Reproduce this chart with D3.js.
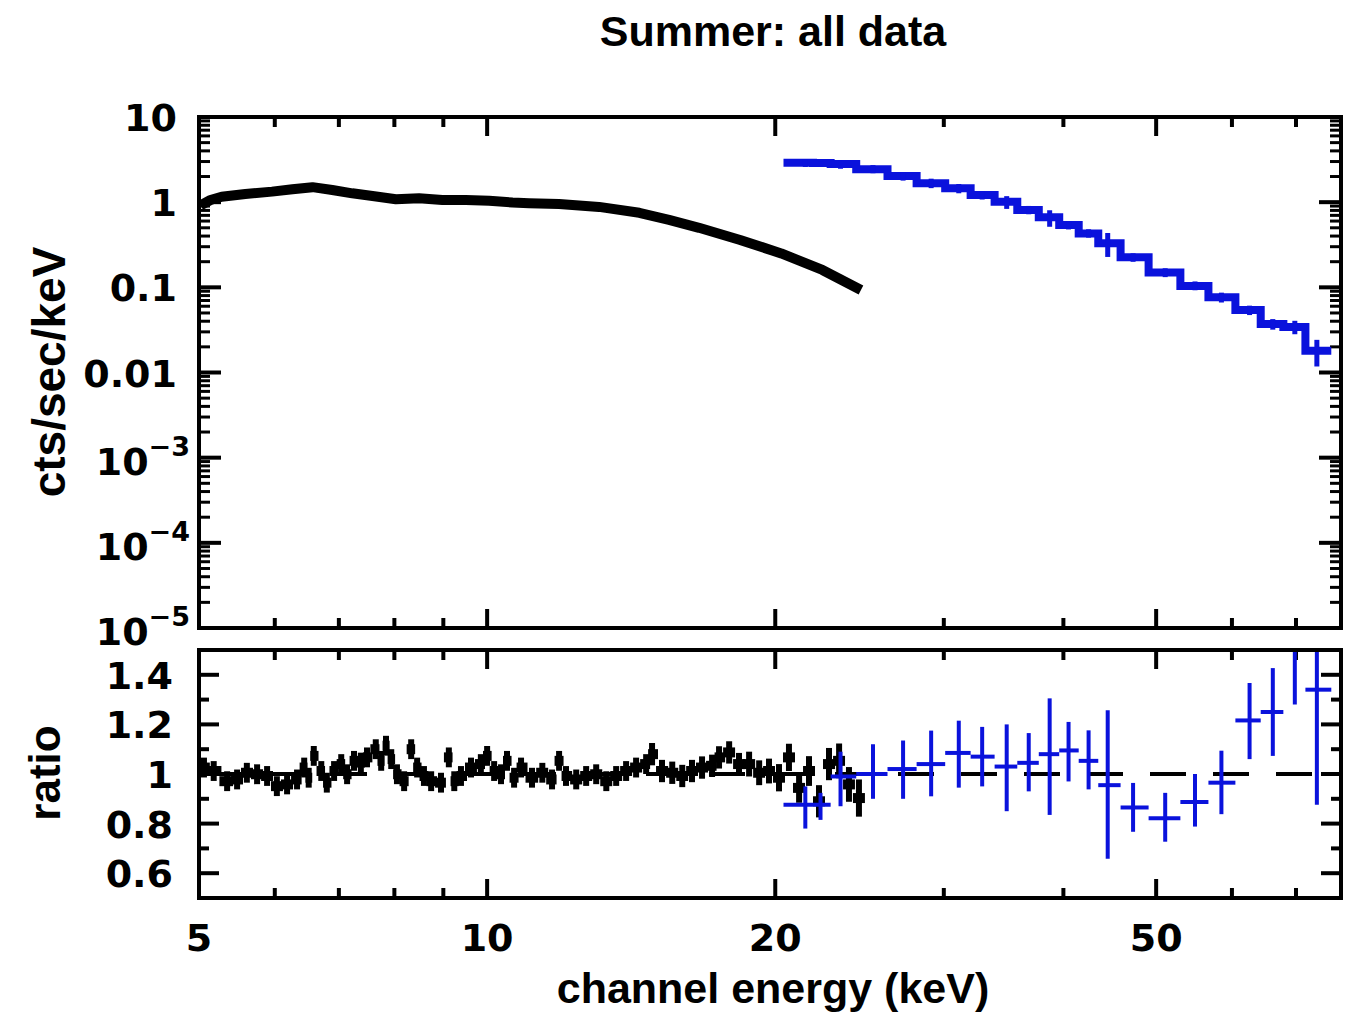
<!DOCTYPE html>
<html><head><meta charset="utf-8">
<script src="https://cdn.jsdelivr.net/npm/d3@7"></script>
<style>
body{margin:0;background:#fff}
svg{display:block}
text{font-family:"Liberation Sans",Arial,sans-serif;font-weight:bold;fill:#000}
text.tl{font-family:"DejaVu Sans",sans-serif}
</style>
</head><body>
<svg id="c" width="1346" height="1015"></svg>
<script>
// ---------- text ----------
const titleText = "Summer: all data";
const xLabelText = "channel energy (keV)";
const yTopLabelText = "cts/sec/keV";
const yBotLabelText = "ratio";

// ---------- ticks ----------
const xMajorTicks = [5, 10, 20, 50];
const xMajorLabels = ["5", "10", "20", "50"];
const xMinorTicks = [6, 7, 8, 9, 30, 40, 60, 70];
const yTopDecades = [10, 1, 0.1, 0.01, 1e-3, 1e-4, 1e-5];
const yTopBase = ["10", "1", "0.1", "0.01", "10", "10", "10"];
const yTopSup = ["", "", "", "", "\u22123", "\u22124", "\u22125"];
const ratioMajor = [0.6, 0.8, 1, 1.2, 1.4];
const ratioMajorLabels = ["0.6", "0.8", "1", "1.2", "1.4"];
const ratioMinor = [0.7, 0.9, 1.1, 1.3];

// ---------- black instrument: spectrum (cts/sec/keV) ----------
const blackSpecE = [5.02, 5.14, 5.28, 5.59, 5.96, 6.26, 6.57, 6.89, 7.23, 7.59, 8.03, 8.49, 8.98, 9.50, 10.05, 10.63, 11.06, 11.89, 13.09, 14.42, 15.49, 16.65, 18.38, 20.29, 22.40, 24.58];
const blackSpecV = [0.92, 1.06, 1.16, 1.25, 1.33, 1.42, 1.50, 1.39, 1.27, 1.18, 1.08, 1.11, 1.06, 1.06, 1.04, 0.99, 0.97, 0.95, 0.88, 0.75, 0.62, 0.50, 0.36, 0.25, 0.16, 0.093];

// ---------- black instrument: ratio ----------
const blackRatioE = [5.06, 5.18, 5.35, 5.48, 5.61, 5.75, 5.89, 6.03, 6.18, 6.33, 6.44, 6.51, 6.59, 6.71, 6.80, 6.92, 7.04, 7.14, 7.26, 7.38,
  7.49, 7.65, 7.75, 7.84, 7.94, 8.05, 8.19, 8.33, 8.45, 8.59, 8.74, 8.95, 9.12, 9.24, 9.39, 9.62, 9.85, 10.0, 10.17, 10.34,
  10.49, 10.67, 10.85, 11.14, 11.42, 11.69, 11.89, 12.09, 12.39, 12.69, 13.00, 13.32, 13.64, 13.97, 14.31, 14.66, 14.87, 15.23, 15.61, 15.99,
  16.37, 16.77, 17.18, 17.47, 17.90, 18.33, 18.78, 19.24, 19.70, 20.18, 20.67, 21.18, 21.69, 22.22, 22.76, 23.32, 23.88, 24.46];
const blackRatioV = [1.026, 1.012, 0.971, 0.978, 1.005, 0.999, 0.992, 0.951, 0.958, 0.978, 1.026, 0.985, 1.073, 1.012, 0.965, 1.012, 1.04, 0.999, 1.053, 1.046,
  1.067, 1.10, 1.053, 1.114, 1.06, 0.999, 0.971, 1.10, 1.026, 0.992, 0.971, 0.965, 1.067, 0.971, 0.992, 1.026, 1.04, 1.073, 1.012, 0.999,
  1.053, 0.985, 1.026, 0.985, 1.005, 0.978, 1.053, 0.992, 0.978, 0.992, 0.999, 0.971, 0.992, 1.012, 1.026, 1.04, 1.08, 1.012, 1.005, 0.992,
  1.012, 1.026, 1.033, 1.067, 1.087, 1.04, 1.04, 1.005, 1.012, 0.985, 1.067, 0.944, 1.012, 0.89, 1.04, 1.053, 0.958, 0.903];
const blackRatioErr = [0.04, 0.04, 0.04, 0.04, 0.04, 0.04, 0.04, 0.04, 0.04, 0.04, 0.04, 0.04, 0.04, 0.04, 0.04, 0.04, 0.04, 0.04, 0.04, 0.04,
  0.04, 0.04, 0.04, 0.04, 0.04, 0.04, 0.04, 0.04, 0.04, 0.04, 0.04, 0.04, 0.04, 0.04, 0.04, 0.04, 0.04, 0.04, 0.04, 0.04,
  0.04, 0.04, 0.04, 0.04, 0.04, 0.04, 0.04, 0.04, 0.04, 0.04, 0.04, 0.04, 0.04, 0.04, 0.04, 0.04, 0.045, 0.045, 0.045, 0.045,
  0.045, 0.045, 0.045, 0.045, 0.045, 0.045, 0.05, 0.05, 0.05, 0.055, 0.055, 0.06, 0.06, 0.065, 0.065, 0.07, 0.07, 0.075];

// ---------- blue instrument ----------
const blueEdges = [20.4, 21.9, 22.85, 24.3, 26.2, 28.1, 30.1, 32.0, 33.9, 35.8, 37.7, 39.6, 41.5, 43.5, 45.9, 49.1, 53.0, 56.7, 60.5, 64.3, 67.9, 71.6, 76.2];
const blueE = [21.5, 22.3, 23.4, 25.3, 27.2, 29.1, 31.1, 32.9, 34.9, 36.8, 38.7, 40.5, 42.5, 44.5, 47.3, 51.1, 54.9, 58.5, 62.6, 66.2, 69.8, 73.6];
const blueSpec = [2.91, 2.88, 2.81, 2.43, 2.03, 1.67, 1.46, 1.21, 1.01, 0.81, 0.665, 0.54, 0.43, 0.33, 0.225, 0.149, 0.104, 0.0764, 0.0542, 0.0371, 0.0343, 0.018];
const blueRatio = [0.876, 0.876, 0.99, 1.00, 1.02, 1.04, 1.085, 1.07, 1.03, 1.045, 1.08, 1.095, 1.053, 0.955, 0.865, 0.822, 0.887, 0.965, 1.216, 1.25, 1.56, 1.34];
const blueRatioLo = [0.78, 0.815, 0.87, 0.90, 0.90, 0.91, 0.945, 0.95, 0.85, 0.93, 0.835, 0.97, 0.938, 0.658, 0.767, 0.727, 0.788, 0.838, 1.06, 1.073, 1.28, 0.876];
const blueRatioHi = [0.95, 0.924, 1.09, 1.12, 1.135, 1.175, 1.215, 1.19, 1.20, 1.165, 1.305, 1.21, 1.176, 1.257, 0.964, 0.924, 1.0, 1.094, 1.367, 1.427, 1.84, 1.80];

const BLUE = "#0a12dc";

// ---------- layout ----------
const svg = d3.select("#c");
const L = 199, R = 1341;
const topT = 117, topB = 628, botT = 650, botB = 898;

const x = d3.scaleLog().domain([5, 78]).range([L, R]);
const yT = d3.scaleLog().domain([1e-5, 10]).range([topB, topT]);
const yR = d3.scaleLinear().domain([0.5, 1.5]).range([botB, botT]);

const defs = svg.append("defs");
defs.append("clipPath").attr("id", "clipTop").append("rect").attr("x", L).attr("y", topT).attr("width", R - L).attr("height", topB - topT);
defs.append("clipPath").attr("id", "clipBot").append("rect").attr("x", L).attr("y", botT).attr("width", R - L).attr("height", botB - botT);

// ---------- title & labels ----------
svg.append("text").attr("x", 773).attr("y", 46).attr("text-anchor", "middle").attr("font-size", 43).text(titleText);
svg.append("text").attr("x", 773).attr("y", 1003).attr("text-anchor", "middle").attr("font-size", 43).text(xLabelText);
svg.append("text").attr("transform", "translate(65,372) rotate(-90)").attr("text-anchor", "middle").attr("font-size", 46).text(yTopLabelText);
svg.append("text").attr("transform", "translate(60,773) rotate(-90)").attr("text-anchor", "middle").attr("font-size", 44).text(yBotLabelText);

// ---------- ticks ----------
function xTicks(top, bot) {
  const g = svg.append("g").attr("stroke", "#000").attr("stroke-width", 4);
  xMajorTicks.slice(1).forEach(v => {
    g.append("line").attr("x1", x(v)).attr("x2", x(v)).attr("y1", top).attr("y2", top + 19);
    g.append("line").attr("x1", x(v)).attr("x2", x(v)).attr("y1", bot).attr("y2", bot - 19);
  });
  xMinorTicks.forEach(v => {
    g.append("line").attr("x1", x(v)).attr("x2", x(v)).attr("y1", top).attr("y2", top + 10);
    g.append("line").attr("x1", x(v)).attr("x2", x(v)).attr("y1", bot).attr("y2", bot - 10);
  });
}
xTicks(topT, topB);
xTicks(botT, botB);

// top y ticks (log)
const gyT = svg.append("g").attr("stroke", "#000").attr("stroke-width", 4);
yTopDecades.forEach(d => {
  gyT.append("line").attr("x1", L).attr("x2", L + 22).attr("y1", yT(d)).attr("y2", yT(d));
  gyT.append("line").attr("x1", R).attr("x2", R - 22).attr("y1", yT(d)).attr("y2", yT(d));
  if (d < 10) {
    for (let m = 2; m <= 9; m++) {
      const v = d * m;
      gyT.append("line").attr("x1", L).attr("x2", L + 11).attr("y1", yT(v)).attr("y2", yT(v)).attr("stroke-width", 3);
      gyT.append("line").attr("x1", R).attr("x2", R - 11).attr("y1", yT(v)).attr("y2", yT(v)).attr("stroke-width", 3);
    }
  }
});
// ratio ticks
const gyR = svg.append("g").attr("stroke", "#000").attr("stroke-width", 4);
ratioMajor.forEach(v => {
  gyR.append("line").attr("x1", L).attr("x2", L + 20).attr("y1", yR(v)).attr("y2", yR(v));
  gyR.append("line").attr("x1", R).attr("x2", R - 20).attr("y1", yR(v)).attr("y2", yR(v));
});
ratioMinor.forEach(v => {
  gyR.append("line").attr("x1", L).attr("x2", L + 10).attr("y1", yR(v)).attr("y2", yR(v));
  gyR.append("line").attr("x1", R).attr("x2", R - 10).attr("y1", yR(v)).attr("y2", yR(v));
});

// tick labels
yTopDecades.forEach((d, i) => {
  const t = svg.append("text").attr("class", "tl").attr("font-size", 38).attr("text-anchor", "end");
  if (yTopSup[i]) {
    t.attr("x", 190).attr("y", yT(d) + 17);
    t.append("tspan").text(yTopBase[i]);
    t.append("tspan").attr("font-size", 27).attr("dy", -19).text(yTopSup[i]);
  } else {
    t.attr("x", 177).attr("y", yT(d) + 14).text(yTopBase[i]);
  }
});
ratioMajor.forEach((v, i) => {
  svg.append("text").attr("class", "tl").attr("font-size", 38).attr("text-anchor", "end").attr("x", 173).attr("y", yR(v) + 14).text(ratioMajorLabels[i]);
});
xMajorTicks.forEach((v, i) => {
  svg.append("text").attr("class", "tl").attr("font-size", 38).attr("text-anchor", "middle").attr("x", x(v)).attr("y", 951).text(xMajorLabels[i]);
});

// ---------- top panel data ----------
const gTop = svg.append("g").attr("clip-path", "url(#clipTop)");
gTop.append("path")
  .datum(blackSpecE.map((e, i) => [e, blackSpecV[i]]))
  .attr("fill", "none").attr("stroke", "#000").attr("stroke-width", 10).attr("stroke-linejoin", "round")
  .attr("d", d3.line().x(d => x(d[0])).y(d => yT(d[1])));

// blue staircase through the bins
const stepPts = [];
blueE.forEach((e, i) => { stepPts.push([blueEdges[i], blueSpec[i]]); stepPts.push([blueEdges[i + 1], blueSpec[i]]); });
gTop.append("path").datum(stepPts)
  .attr("fill", "none").attr("stroke", BLUE).attr("stroke-width", 8).attr("stroke-linejoin", "miter")
  .attr("d", d3.line().x(d => x(d[0])).y(d => yT(d[1])));
blueE.forEach((e, i) => {
  const v = blueSpec[i];
  const lo = v * blueRatioLo[i] / blueRatio[i];
  const hi = v * blueRatioHi[i] / blueRatio[i];
  gTop.append("line").attr("x1", x(e)).attr("x2", x(e)).attr("y1", yT(lo)).attr("y2", yT(hi))
    .attr("stroke", BLUE).attr("stroke-width", 5);
});

// ---------- ratio panel ----------
const gBot = svg.append("g").attr("clip-path", "url(#clipBot)");
gBot.append("line").attr("x1", x(5)).attr("x2", x(78)).attr("y1", yR(1)).attr("y2", yR(1))
  .attr("stroke", "#000").attr("stroke-width", 4).attr("stroke-dasharray", "36,27").attr("stroke-dashoffset", 57);

const nB = blackRatioE.length;
blackRatioE.forEach((e, i) => {
  const lE = i > 0 ? Math.sqrt(e * blackRatioE[i - 1]) : e * e / Math.sqrt(e * blackRatioE[1]);
  const rE = i < nB - 1 ? Math.sqrt(e * blackRatioE[i + 1]) : e * e / Math.sqrt(e * blackRatioE[i - 1]);
  const v = blackRatioV[i], er = blackRatioErr[i];
  gBot.append("line").attr("x1", x(lE) - 1).attr("x2", x(rE) + 1).attr("y1", yR(v)).attr("y2", yR(v)).attr("stroke", "#000").attr("stroke-width", 10);
  gBot.append("line").attr("x1", x(e)).attr("x2", x(e)).attr("y1", yR(v - er)).attr("y2", yR(v + er)).attr("stroke", "#000").attr("stroke-width", 6);
});

blueE.forEach((e, i) => {
  gBot.append("line").attr("x1", x(blueEdges[i])).attr("x2", x(blueEdges[i + 1])).attr("y1", yR(blueRatio[i])).attr("y2", yR(blueRatio[i]))
    .attr("stroke", BLUE).attr("stroke-width", 4);
  gBot.append("line").attr("x1", x(e)).attr("x2", x(e)).attr("y1", yR(blueRatioLo[i])).attr("y2", yR(blueRatioHi[i]))
    .attr("stroke", BLUE).attr("stroke-width", 4);
});

// ---------- frames ----------
svg.append("rect").attr("x", L).attr("y", topT).attr("width", R - L).attr("height", topB - topT)
  .attr("fill", "none").attr("stroke", "#000").attr("stroke-width", 4);
svg.append("rect").attr("x", L).attr("y", botT).attr("width", R - L).attr("height", botB - botT)
  .attr("fill", "none").attr("stroke", "#000").attr("stroke-width", 4);
</script>
</body></html>
